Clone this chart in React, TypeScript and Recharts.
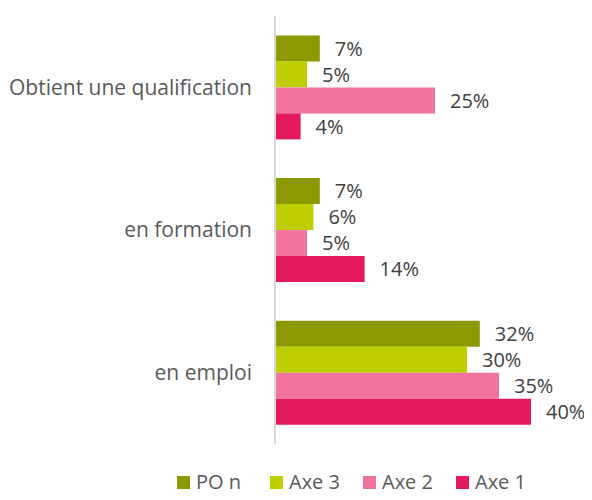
import { BarChart, Bar, XAxis, YAxis, Legend, LabelList } from 'recharts';

const categories = ['Obtient une qualification', 'en formation', 'en emploi'];
const poN = [7, 7, 32];
const axe3 = [5, 6, 30];
const axe2 = [25, 5, 35];
const axe1 = [4, 14, 40];

const series = [
  { key: 'poN', name: 'PO n', color: '#8C9900' },
  { key: 'axe3', name: 'Axe 3', color: '#BFCE00' },
  { key: 'axe2', name: 'Axe 2', color: '#F0739E' },
  { key: 'axe1', name: 'Axe 1', color: '#E31A5F' },
];

const data = categories.map((name, i) => ({
  name,
  poN: poN[i],
  axe3: axe3[i],
  axe2: axe2[i],
  axe1: axe1[i],
}));

const font = '"Open Sans", sans-serif';

function LegendContent() {
  return (
    <div
      style={{
        display: 'flex',
        justifyContent: 'flex-start',
        paddingLeft: 177,
        paddingTop: 28,
        fontFamily: font,
        fontSize: 20,
        color: '#595959',
        lineHeight: '20px',
      }}
    >
      {series.map((s) => (
        <div key={s.key} style={{ display: 'flex', alignItems: 'center', width: 93 }}>
          <span style={{ display: 'inline-block', width: 13, height: 13, background: s.color, marginRight: 6 }} />
          <span>{s.name}</span>
        </div>
      ))}
    </div>
  );
}

export default function App() {
  return (
    <div style={{ margin: -8, fontFamily: font }}>
      <BarChart
        width={592}
        height={500}
        data={data}
        layout="vertical"
        margin={{ top: 16, right: 29, left: 0, bottom: 0 }}
        barCategoryGap="13.6%"
        barGap={0}
      >
        <XAxis type="number" domain={[0, 45]} hide />
        <YAxis
          type="category"
          dataKey="name"
          width={275}
          tickLine={false}
          axisLine={{ stroke: '#D9D9D9', strokeWidth: 2 }}
          tick={{ fill: '#595959', fontSize: 21, fontFamily: font }}
          tickMargin={17}
        />
        <Legend verticalAlign="bottom" height={56} content={<LegendContent />} />
        {series.map((s) => (
          <Bar key={s.key} dataKey={s.key} name={s.name} fill={s.color} isAnimationActive={false}>
            <LabelList
              dataKey={s.key}
              position="right"
              offset={15}
              formatter={(v: number) => `${v}%`}
              style={{ fill: '#404040', fontSize: 20, fontFamily: font }}
            />
          </Bar>
        ))}
      </BarChart>
    </div>
  );
}
